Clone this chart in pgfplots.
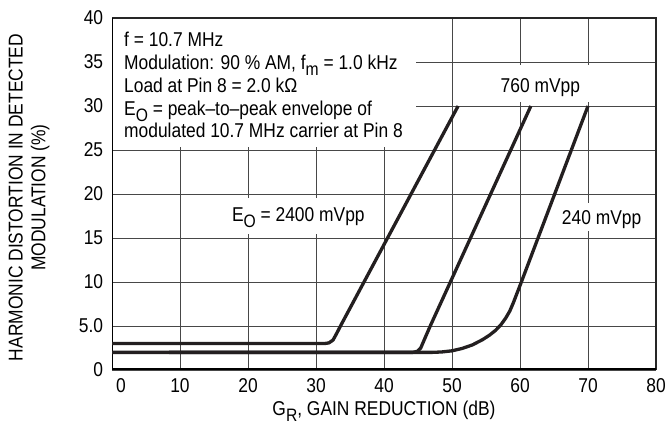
\documentclass[border=0pt]{standalone}
\usepackage{fontspec}
\setmainfont{Liberation Sans}[FakeStretch=0.87]
\usepackage{graphicx}
\usepackage{pgfplots}
\pgfplotsset{compat=1.18}
\definecolor{ink}{HTML}{231F20}
\newcommand\sub[1]{\raisebox{-0.3em}{\scalebox{0.9}{#1}}}
\begin{document}
\fontsize{20bp}{22.8bp}\selectfont
\begin{tikzpicture}
\begin{axis}[
  scale only axis, width=544bp, height=352bp,
  xmin=0, xmax=80, ymin=0, ymax=40,
  xtick={0,10,...,80}, ytick={0,5,...,40},
  xticklabels={\hspace*{18bp}0,10,20,30,40,50,60,70,80},
  yticklabels={0,5.0,10,15,20,25,30,35,40},
  /pgf/number format/assume math mode=true,
  major tick length=0pt,
  grid=major, grid style={line width=0.8bp, black!72},
  axis line style={line width=1bp, black!85},
  axis on top=false,
  xticklabel style={yshift=-2bp},
  yticklabel style={xshift=-2bp},
  xlabel={G\sub{R}, GAIN REDUCTION (dB)},
  ylabel={HARMONIC DISTORTION IN DETECTED\\MODULATION (\%)},
  xlabel style={at={(axis description cs:0.5,0)}, anchor=center, yshift=-41bp},
  ylabel style={align=center, at={(axis description cs:0,0.49)}, anchor=center, rotate=0, yshift=83bp},
]
\fill[white] (axis cs:0,25.3) rectangle (axis cs:44.7,40);
\fill[white] (axis cs:51,30.4) rectangle (axis cs:71,34.7);
\fill[white] (axis cs:16.5,15.4) rectangle (axis cs:38.5,19.6);
\fill[white] (axis cs:65.5,15.8) rectangle (axis cs:78.5,19.0);
\draw[line width=1.1bp, black!85] (rel axis cs:0,1) -- (rel axis cs:1,1) -- (rel axis cs:1,0);
\draw[line width=3bp, black] (rel axis cs:0,0) -- (rel axis cs:1,0);
\draw[line width=1.8bp, black] (rel axis cs:0,0) -- (rel axis cs:0,1);
\node[anchor=north west, align=left, inner sep=0pt] at ([xshift=12bp,yshift=-14bp]axis cs:0,40)
 {f = 10.7 MHz\\
  Modulation: 90 \% AM, f\sub{m} = 1.0 kHz\\
  Load at Pin 8 = 2.0 kΩ\\
  E\sub{O} = peak–to–peak envelope of\\
  modulated 10.7 MHz carrier at Pin 8};
\node[anchor=center] at (axis cs:27.4,17.3) {E\sub{O} = 2400 mVpp};
\node[anchor=center] at (axis cs:63.0,32.1) {760 mVpp};
\node[anchor=center] at (axis cs:72.0,17.1) {240 mVpp};
\addplot[ink, line width=3.3bp, line join=round] coordinates {
 (0,3) (31.2,3) (31.9,3.08) (32.5,3.4) (33.0,4.1) (33.6,5) (50.9,30)};
\addplot[ink, line width=3.3bp, line join=round] coordinates {
 (0,2) (44.2,2) (44.9,2.12) (45.4,2.5) (45.9,3.4) (46.8,5) (61.6,30)};
\addplot[ink, line width=3.3bp, line join=round] coordinates {
 (8.4,2) (47,2) (48.5,2.05) (50,2.18) (51.5,2.45) (53,2.85) (54.5,3.45) (55.5,3.95) (56.4,4.5) (57.2,5.15) (57.9,5.9) (58.5,6.7) (59.0,7.6) (59.5,8.6) (60.2,10) (70,30)};
\end{axis}
\pgfresetboundingbox
\path ([xshift=-112bp,yshift=-68bp]current axis.south west) rectangle ([xshift=9bp,yshift=18bp]current axis.north east);
\end{tikzpicture}
\end{document}
